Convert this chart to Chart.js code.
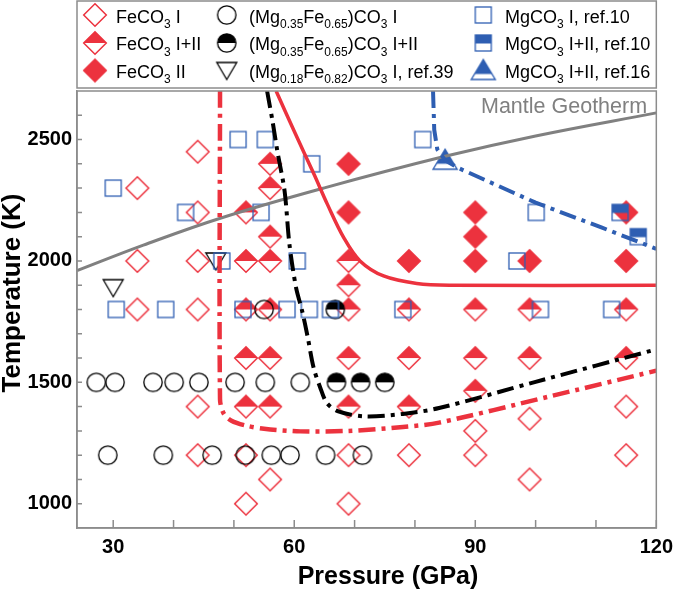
<!DOCTYPE html>
<html><head><meta charset="utf-8">
<script src="https://cdn.jsdelivr.net/npm/chart.js@4.4.0/dist/chart.umd.min.js"></script>
<style>html,body{margin:0;padding:0;background:#fff}#wrap{width:680px;height:590px;position:relative}</style>
</head><body><div id="wrap"><canvas id="c" width="680" height="590"></canvas></div>
<script>
// ---------- data (P in GPa, T in K) ----------
const feco3I = [[34,2300],[44,2450],[44,2200],[34,2000],[44,2000],[34,1800],[44,1800],[44,1400],[44,1200],[52,1200],[56,1100],[52,1000],[69,1200],[69,1000],[79,1200],[90,1300],[90,1200],[99,1350],[99,1100],[115,1400],[115,1200]];
const feco3I_II = [[56,2400],[56,2300],[52,2200],[56,2100],[52,2000],[56,2000],[69,2000],[69,1900],[52,1800],[56,1800],[69,1800],[79,1800],[90,1800],[99,1800],[115,1800],[52,1600],[56,1600],[69,1600],[79,1600],[90,1600],[99,1600],[115,1600],[52,1400],[56,1400],[69,1400],[79,1400],[90,1465]];
const feco3II = [[69,2400],[69,2200],[79,2000],[90,2200],[90,2100],[90,2000],[99,2000],[115,2200],[115,2000]];
const mg35I = [[55,1800],[27.2,1500],[30.3,1500],[36.6,1500],[40.1,1500],[44.2,1500],[50.2,1500],[55.2,1500],[61,1500],[29.1,1200],[38.3,1200],[46.4,1200],[51.9,1200],[56.2,1200],[59.3,1200],[65.2,1200],[71.3,1200]];
const mg35I_II = [[66.8,1800],[67,1500],[71,1500],[75,1500]];
const mg18I = [[30,1890],[47,2000]];
const mgcI = [[30,2300],[42,2200],[48,2000],[30.5,1800],[38.7,1800],[50.7,2500],[55.2,2500],[62.9,2400],[54.5,2200],[60.5,2000],[81.3,2500],[96.9,2000],[100.1,2200],[51.5,1800],[58.8,1800],[62.5,1800],[66,1800],[78,1800],[100.8,1800],[112.6,1800]];
const mgcI_II10 = [[114,2200],[117,2100]];
const mgcI_II16 = [[85,2415]];

// boundary curves
const geotherm = [[24,1960],[35,2065],[48,2178],[65,2301],[85,2431],[100,2515],[120,2610]];
const fe_lower = [[47.7,2700],[47.7,1430],[48.3,1372],[49.6,1342],[52,1322],[55,1309],[61,1298],[69,1300],[78,1316],[84,1334],[102,1440],[120,1548]];
const mg35_bound = [[55.5,2700],[56.4,2576],[57.2,2452],[58.4,2288],[59.2,2069],[60.3,1890],[61.3,1795],[62.2,1690],[63.2,1561],[64.3,1479],[65.4,1415],[67.3,1380],[71.7,1360],[78,1370],[84,1394],[100,1502],[120,1636]];
const fe_upper = [[57,2700],[60,2534],[63.3,2356],[65.5,2233],[68.2,2096],[70.9,2000],[74.8,1938],[80.3,1907],[86,1900],[120,1900]];
const mgc_bound = [[83,2700],[83.2,2540],[83.7,2460],[85,2415],[87,2385],[100,2240],[111,2137],[120,2050]];

const xTickValues = [30,40,50,60,70,80,90,100,110,120];
const xTickLabels = [30,60,90,120];
const yTickValues = [1000,1100,1200,1300,1400,1500,1600,1700,1800,1900,2000,2100,2200,2300,2400,2500,2600];
const yTickLabels = [1000,1500,2000,2500];

const xTitle = 'Pressure (GPa)';
const yTitle = 'Temperature (K)';
const geothermLabel = 'Mantle Geotherm';
const legendLabels = ['FeCO_{3} I','FeCO_{3} I+II','FeCO_{3} II',
 '(Mg_{0.35}Fe_{0.65})CO_{3} I','(Mg_{0.35}Fe_{0.65})CO_{3} I+II','(Mg_{0.18}Fe_{0.82})CO_{3} I, ref.39',
 'MgCO_{3} I, ref.10','MgCO_{3} I+II, ref.10','MgCO_{3} I+II, ref.16'];

// ---------- styles ----------
const RED='rgb(236,50,62)', BLUE='rgb(46,94,178)', GRAY='rgb(128,128,128)', AXIS='rgb(140,140,140)';
const FONT='"Liberation Sans", Arial, Helvetica, sans-serif';

function mk(size, draw){ const c=document.createElement('canvas'); c.width=size; c.height=size; const g=c.getContext('2d'); draw(g,size/2); return c; }
function diamondPath(g,c,h){ g.beginPath(); g.moveTo(c,c-h); g.lineTo(c+h,c); g.lineTo(c,c+h); g.lineTo(c-h,c); g.closePath(); }
function diamond(kind){ return mk(28,(g,c)=>{ const h=11.3; g.lineWidth=1.5; g.strokeStyle=RED; g.fillStyle=RED;
  if(kind==='half'){ g.beginPath(); g.moveTo(c,c-h); g.lineTo(c+h,c); g.lineTo(c-h,c); g.closePath(); g.fill(); }
  diamondPath(g,c,h); if(kind==='full') g.fill(); g.stroke(); }); }
function circle(kind){ return mk(24,(g,c)=>{ const r=9.2; g.lineWidth=1.3; g.strokeStyle='#000'; g.fillStyle='#000';
  if(kind==='half'){ g.beginPath(); g.arc(c,c,r,Math.PI,2*Math.PI); g.closePath(); g.fill(); }
  g.beginPath(); g.arc(c,c,r,0,2*Math.PI); g.stroke(); }); }
function triDown(){ return mk(26,(g,c)=>{ g.lineWidth=1.3; g.strokeStyle='#000'; g.beginPath(); g.moveTo(c-10,c-8); g.lineTo(c+10,c-8); g.lineTo(c,c+9); g.closePath(); g.stroke(); }); }
function square(kind){ return mk(22,(g,c)=>{ g.lineWidth=1.3; g.strokeStyle=BLUE; g.fillStyle=BLUE;
  if(kind==='half') g.fillRect(c-8,c-8,16,8.5);
  g.strokeRect(c-8,c-8,16,16); }); }
function triUp(){ return mk(28,(g,c)=>{ g.lineWidth=1.4; g.strokeStyle=BLUE; g.fillStyle=BLUE;
  const path=()=>{ g.beginPath(); g.moveTo(c,c-11); g.lineTo(c+12,c+9); g.lineTo(c-12,c+9); g.closePath(); };
  g.save(); g.beginPath(); g.rect(0,0,28,c+3.5); g.clip(); path(); g.fill(); g.restore();
  path(); g.stroke(); }); }

const markers = [diamond('open'),diamond('half'),diamond('full'),circle('open'),circle('half'),triDown(),square('open'),square('half'),triUp()];

const pts = arr => arr.map(([x,y])=>({x,y}));
function scatterDS(label, arr, style){ return {label, data: pts(arr), pointStyle: style, pointRadius: 10, pointHoverRadius: 10, showLine:false}; }
function lineDS(label, arr, color, width, dash, tension){ return {label, data: pts(arr), showLine:true, borderColor: color, borderWidth: width, borderDash: dash, pointRadius:0, pointHoverRadius:0, tension, fill:false, borderCapStyle:'butt', borderJoinStyle:'round'}; }

const datasets = [
  lineDS('MgCO3 boundary', mgc_bound, BLUE, 4, [17,6,4,6], 0),
  lineDS('FeCO3 lower boundary', fe_lower, RED, 4.5, [17,6,4,6], 0.3),
  lineDS('(Mg0.35Fe0.65)CO3 boundary', mg35_bound, '#000', 4, [17,6,4,6], 0.3),
  lineDS('FeCO3 upper boundary', fe_upper, RED, 3.5, [], 0.35),
  lineDS('Mantle Geotherm', geotherm, GRAY, 3, [], 0.4),
  scatterDS(legendLabels[7], mgcI_II10, markers[7]),
  scatterDS(legendLabels[8], mgcI_II16, markers[8]),
  scatterDS(legendLabels[6], mgcI, markers[6]),
  scatterDS(legendLabels[5], mg18I, markers[5]),
  scatterDS(legendLabels[4], mg35I_II, markers[4]),
  scatterDS(legendLabels[3], mg35I, markers[3]),
  scatterDS(legendLabels[0], feco3I, markers[0]),
  scatterDS(legendLabels[1], feco3I_II, markers[1]),
  scatterDS(legendLabels[2], feco3II, markers[2]),
];

function drawRich(ctx, str, x, y, size, subSize, subDy){
  const parts = str.split(/(_\{[^}]*\})/);
  for (const p of parts){ if(!p) continue; let sub=false, t=p;
    if(p.startsWith('_{')){ sub=true; t=p.slice(2,-1); }
    ctx.font = (sub?subSize:size)+'px '+FONT;
    ctx.fillText(t, x, sub? y+subDy : y);
    x += ctx.measureText(t).width; }
}

const decor = {
  id:'decor',
  afterDraw(chart){
    const {ctx, chartArea:a, scales:{x,y}} = chart;
    ctx.save();
    // frame
    ctx.strokeStyle=AXIS; ctx.lineWidth=1.5;
    ctx.strokeRect(a.left, a.top, a.right-a.left, a.bottom-a.top);
    // inward ticks
    ctx.beginPath();
    xTickValues.forEach(v=>{ const px=x.getPixelForValue(v); ctx.moveTo(px,a.bottom); ctx.lineTo(px,a.bottom-8); });
    yTickValues.forEach(v=>{ const py=y.getPixelForValue(v); ctx.moveTo(a.left,py); ctx.lineTo(a.left+5,py); });
    ctx.stroke();
    // axis titles
    ctx.fillStyle='#000'; ctx.textAlign='center'; ctx.textBaseline='middle';
    ctx.font='bold 25px '+FONT;
    ctx.fillText(xTitle, 388, 577);
    ctx.save(); ctx.translate(13, 293); ctx.rotate(-Math.PI/2);
    ctx.font='bold 26px '+FONT; ctx.fillText(yTitle, 0, 0); ctx.restore();
    // geotherm label
    ctx.fillStyle=GRAY; ctx.font='21.5px '+FONT; ctx.textBaseline='alphabetic'; ctx.textAlign='left';
    ctx.fillText(geothermLabel, 481, 112.5);
    // legend box
    ctx.strokeStyle=AXIS; ctx.lineWidth=1.5;
    ctx.strokeRect(a.left, 1, a.right-a.left, 87);
    const colMX=[95,226.7,483.3], colTX=[116,249,505], rowY=[15,43,70.5], rowB=[22.5,50,77.5];
    ctx.fillStyle='#000';
    for(let i=0;i<9;i++){ const col=Math.floor(i/3), row=i%3; const m=markers[i];
      ctx.drawImage(m, colMX[col]-m.width/2, rowY[row]-m.height/2);
      drawRich(ctx, legendLabels[i], colTX[col], rowB[row], 18, 12, 5.5);
    }
    ctx.restore();
  }
};

new Chart(document.getElementById('c'), {
  type:'scatter',
  data:{datasets},
  options:{
    responsive:false, animation:false, events:[],
    layout:{padding:{top:91,right:17,left:0,bottom:0}},
    plugins:{legend:{display:false}, tooltip:{enabled:false}},
    scales:{
      x:{type:'linear', min:24, max:120, position:'bottom',
        afterFit: s=>{ s.height=62; },
        afterBuildTicks: s=>{ s.ticks = xTickValues.map(v=>({value:v})); },
        grid:{display:false, drawTicks:false},
        border:{display:true, color:AXIS, width:1.5},
        ticks:{padding:7, color:'#000', autoSkip:false, maxRotation:0, font:{family:FONT,size:20,weight:'bold'},
          callback:v=> xTickLabels.includes(v) ? String(v) : ''},
        title:{display:false}
      },
      y:{type:'linear', min:900, max:2700, position:'left',
        afterFit: s=>{ s.width=77; },
        afterBuildTicks: s=>{ s.ticks = yTickValues.map(v=>({value:v})); },
        grid:{display:false, drawTicks:false},
        border:{display:true, color:AXIS, width:1.5},
        ticks:{padding:5, color:'#000', autoSkip:false, font:{family:FONT,size:20,weight:'bold'},
          callback:v=> yTickLabels.includes(v) ? String(v) : ''},
        title:{display:false}
      }
    }
  },
  plugins:[decor]
});
</script></body></html>
